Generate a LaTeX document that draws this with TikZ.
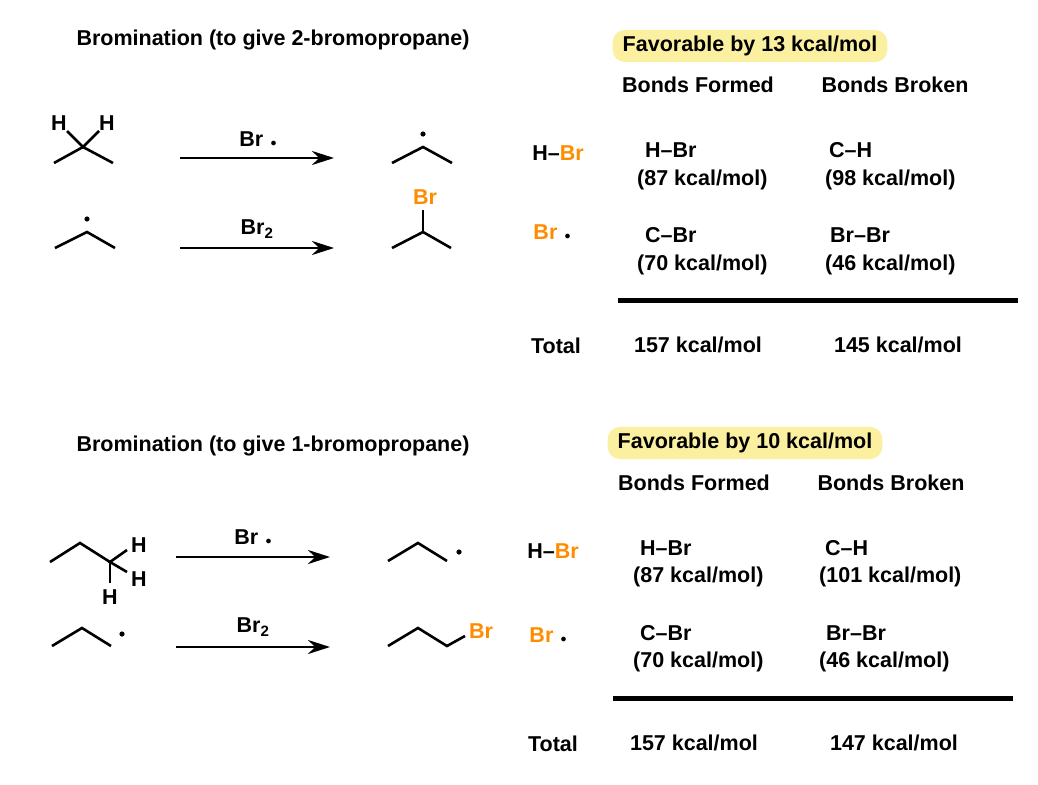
\documentclass[tikz,border=0pt]{standalone}
\usepackage{fontspec}
\setmainfont{Liberation Sans}
\usetikzlibrary{arrows.meta}
\definecolor{brc}{HTML}{FF8C00}
\definecolor{hl}{HTML}{FBEFA0}
\begin{document}
\begin{tikzpicture}[x=1pt,y=-1pt,
  txt/.style={font=\bfseries\fontsize{21.5}{24}\selectfont,inner sep=0pt},
  bond/.style={line width=2.6pt},
  rxn/.style={line width=2.8pt,-{Stealth[length=22pt,width=14pt]}},
  hbox/.style={fill=hl,rounded corners=12pt,inner xsep=10pt,inner ysep=6pt,font=\bfseries\fontsize{21.5}{24}\selectfont}]
\useasboundingbox (0,0) rectangle (1038,784);
% ---- top ----
\node[txt] (t1) at (273,40) {Bromination (to give 2-bromopropane)};
\draw[bond] (54,163) -- (83,147) -- (113,163);
\draw[bond] (67,131) -- (83,147) -- (99,131);
\node[txt] (h1) at (59,123) {H};
\node[txt] (h2) at (107,123) {H};
\coordinate (a1s) at (180,158); \coordinate (a1e) at (334,158);
\draw[rxn] (a1s) -- (a1e);
\node[txt] (l1) at (258,139) {Br\,\,{\fontsize{12}{12}\selectfont$\bullet$}};
\draw[bond] (392,163) -- (423,147) -- (452,163);
\fill (423,134) circle (2.6);
\fill (87,219) circle (2.6);
\draw[bond] (55,248) -- (87,232) -- (115,248);
\coordinate (a2s) at (180,248); \coordinate (a2e) at (334,248);
\draw[rxn] (a2s) -- (a2e);
\node[txt] (l2) at (257,229) {Br$_\mathbf{2}$};
\draw[bond] (392,248) -- (423,232) -- (451,248);
\draw[bond] (423,232) -- (423,210);
\node[txt,text=brc] (br1) at (425,197) {Br};
\node[hbox] (f1) at (750,46) {Favorable by 13 kcal/mol};
\node[txt] (bf1) at (698,85) {Bonds Formed};
\node[txt] (bb1) at (895,85) {Bonds Broken};
\node[txt] (hb1) at (558,153) {H--\textcolor{brc}{Br}};
\node[txt,text=brc] (rb1) at (552,232) {Br\,\,\textcolor{black}{\fontsize{12}{12}\selectfont$\bullet$}};
\node[txt,anchor=west] at (645,150) {H--Br};
\node[txt,anchor=west] at (637,180) {(87 kcal/mol)};
\node[txt,anchor=west] at (829,150) {C--H};
\node[txt,anchor=west] at (825,180) {(98 kcal/mol)};
\node[txt,anchor=west] at (645,235) {C--Br};
\node[txt,anchor=west] at (637,265) {(70 kcal/mol)};
\node[txt,anchor=west] at (830,235) {Br--Br};
\node[txt,anchor=west] at (825,265) {(46 kcal/mol)};
\draw[line width=5pt] (618,300) -- (1018,300);
\node[txt] at (556,346) {Total};
\node[txt] at (698,345) {157 kcal/mol};
\node[txt] at (898,345) {145 kcal/mol};
% ---- bottom ----
\node[txt] (t2) at (273,446) {Bromination (to give 1-bromopropane)};
\draw[bond] (50,562) -- (80,543) -- (110,562);
\draw[bond] (127,550) -- (110,562) -- (127,572);
\draw[bond] (110,562) -- (110,583);
\node[txt] at (139,545) {H};
\node[txt] at (139,579) {H};
\node[txt] at (110,597) {H};
\coordinate (a3s) at (176,557); \coordinate (a3e) at (330,557);
\draw[rxn] (a3s) -- (a3e);
\node[txt] at (253,537) {Br\,\,{\fontsize{12}{12}\selectfont$\bullet$}};
\draw[bond] (388,561) -- (418,543) -- (447,561);
\fill (459,552) circle (2.6);
\draw[bond] (52,646) -- (82,628) -- (111,646);
\fill (122,634) circle (2.6);
\coordinate (a4s) at (176,647); \coordinate (a4e) at (330,647);
\draw[rxn] (a4s) -- (a4e);
\node[txt] at (253,627) {Br$_\mathbf{2}$};
\draw[bond] (388,646) -- (418,628) -- (447,646) -- (465,636);
\node[txt,text=brc] at (481,631) {Br};
\node[hbox] (f2) at (745,443) {Favorable by 10 kcal/mol};
\node[txt] at (694,483) {Bonds Formed};
\node[txt] at (891,483) {Bonds Broken};
\node[txt] at (553,551) {H--\textcolor{brc}{Br}};
\node[txt,text=brc] at (548,635) {Br\,\,\textcolor{black}{\fontsize{12}{12}\selectfont$\bullet$}};
\node[txt,anchor=west] at (640,548) {H--Br};
\node[txt,anchor=west] at (633,577) {(87 kcal/mol)};
\node[txt,anchor=west] at (825,548) {C--H};
\node[txt,anchor=west] at (819,577) {(101 kcal/mol)};
\node[txt,anchor=west] at (640,633) {C--Br};
\node[txt,anchor=west] at (633,662) {(70 kcal/mol)};
\node[txt,anchor=west] at (826,633) {Br--Br};
\node[txt,anchor=west] at (819,662) {(46 kcal/mol)};
\draw[line width=5pt] (613,698) -- (1013,698);
\node[txt] at (553,744) {Total};
\node[txt] at (694,743) {157 kcal/mol};
\node[txt] at (894,743) {147 kcal/mol};
\end{tikzpicture}
\end{document}
